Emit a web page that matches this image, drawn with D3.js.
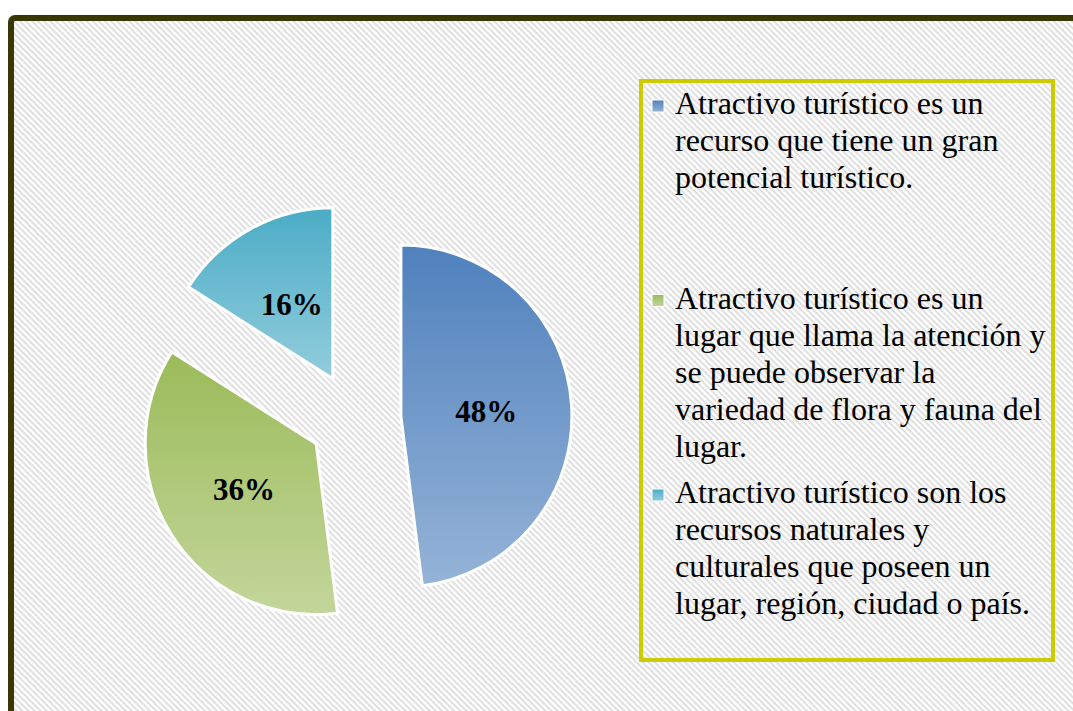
<!DOCTYPE html>
<html>
<head>
<meta charset="utf-8">
<script src="https://cdn.jsdelivr.net/npm/d3@7"></script>
<style>
  body { margin: 0; background: #fff; }
  svg { display: block; }
</style>
</head>
<body>
<script>
const width = 1073;
const height = 711;

// data
const values = [48, 36, 16];
const labels = ['48%', '36%', '16%'];
const legendLines = [
  ['Atractivo turístico es un', 'recurso que tiene un gran', 'potencial turístico.'],
  ['Atractivo turístico es un', 'lugar que llama la atención y', 'se puede observar la', 'variedad de flora y fauna del', 'lugar.'],
  ['Atractivo turístico son los', 'recursos naturales y', 'culturales que poseen un', 'lugar, región, ciudad o país.']
];
const colours = [['#4f81bd', '#95b3d7'], ['#9bbb59', '#c3d69b'], ['#4bacc6', '#92cddc']];

const svg = d3.select('body').append('svg')
    .attr('width', width)
    .attr('height', height);

const defs = svg.append('defs');

// diagonal hatching of the chart area
const hatch = defs.append('pattern')
    .attr('id', 'hatch')
    .attr('patternUnits', 'userSpaceOnUse')
    .attr('width', 10)
    .attr('height', 4.3)
    .attr('patternTransform', 'rotate(45)');
hatch.append('rect').attr('width', 10).attr('height', 4.3).attr('fill', '#ffffff');
hatch.append('rect').attr('width', 10).attr('height', 2).attr('fill', '#dfdfdf');

colours.forEach((c, i) => {
  const g = defs.append('linearGradient')
      .attr('id', 'grad' + i)
      .attr('x1', 0).attr('y1', 0).attr('x2', 0).attr('y2', 1);
  g.append('stop').attr('offset', '0%').attr('stop-color', c[0]);
  g.append('stop').attr('offset', '100%').attr('stop-color', c[1]);
});

// frame
svg.append('rect')
    .attr('x', 11).attr('y', 18)
    .attr('width', width + 20).attr('height', height + 20)
    .attr('rx', 4)
    .attr('fill', 'url(#hatch)')
    .attr('stroke', '#383800')
    .attr('stroke-width', 6);

// pie
const cx = 355, cy = 419, radius = 171, explode = 46;

const pie = d3.pie().sort(null).value((d) => d).startAngle(0).endAngle(2 * Math.PI);
const arc = d3.arc().innerRadius(0).outerRadius(radius);

const slices = svg.append('g')
    .attr('transform', `translate(${cx},${cy})`)
  .selectAll('g')
  .data(pie(values))
  .join('g')
    .attr('transform', (d) => {
      const mid = (d.startAngle + d.endAngle) / 2;
      return `translate(${explode * Math.sin(mid)},${-explode * Math.cos(mid)})`;
    });

slices.append('path')
    .attr('d', arc)
    .attr('fill', (d, i) => `url(#grad${i})`)
    .attr('stroke', '#ffffff')
    .attr('stroke-width', 3)
    .attr('stroke-linejoin', 'miter');

slices.append('text')
    .attr('transform', (d) => `translate(${arc.centroid(d)})`)
    .attr('dy', '0.35em')
    .attr('text-anchor', 'middle')
    .style('font-family', '"Liberation Serif", "Times New Roman", serif')
    .style('font-weight', 'bold')
    .style('font-size', '31px')
    .attr('fill', '#000')
    .text((d, i) => labels[i]);

// legend
svg.append('rect')
    .attr('x', 641).attr('y', 81)
    .attr('width', 412).attr('height', 579)
    .attr('fill', 'none')
    .attr('stroke', '#cccc00')
    .attr('stroke-width', 4);

const entryY = d3.scaleLinear().domain([0, 1]).range([114, 308.5]);
const lineH = 37;

const entries = svg.append('g')
  .selectAll('g')
  .data(legendLines)
  .join('g')
    .attr('transform', (d, i) => `translate(0,${entryY(i)})`);

entries.append('rect')
    .attr('x', 652).attr('y', -14)
    .attr('width', 12).attr('height', 12)
    .attr('fill', (d, i) => `url(#grad${i})`)
    .attr('stroke', '#ffffff')
    .attr('stroke-width', 1);

entries.append('text')
    .attr('x', 675)
    .style('font-family', '"Liberation Serif", "Times New Roman", serif')
    .style('font-size', '32px')
    .attr('fill', '#000')
  .selectAll('tspan')
  .data((d) => d)
  .join('tspan')
    .attr('x', 675)
    .attr('y', (d, i) => i * lineH)
    .text((d) => d);
</script>
</body>
</html>
